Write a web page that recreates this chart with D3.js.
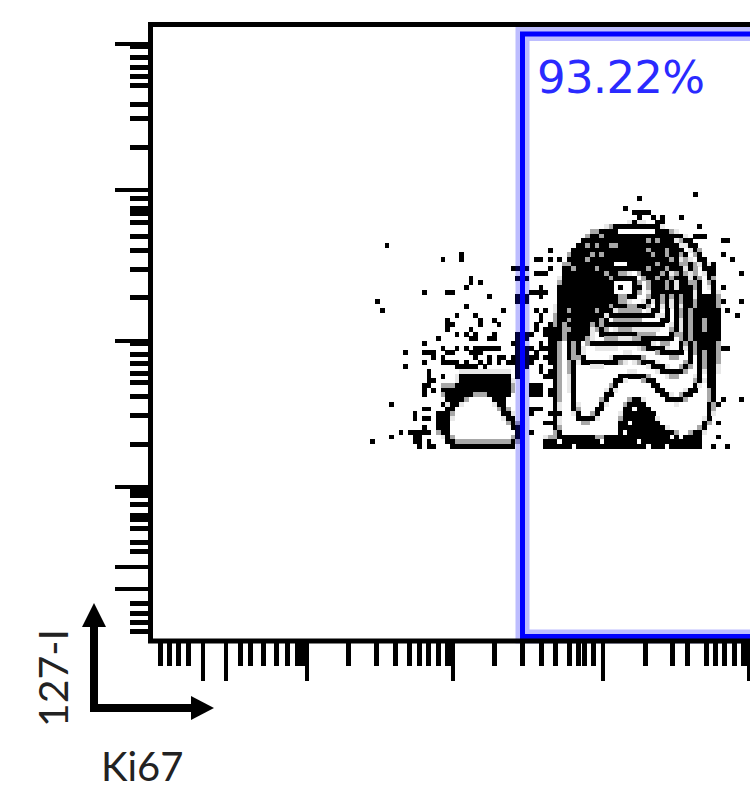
<!DOCTYPE html>
<html>
<head>
<meta charset="utf-8">
<style>
html, body { margin: 0; padding: 0; background: #fff; overflow: hidden; }
svg { display: block; }
</style>
<script src="https://cdn.jsdelivr.net/npm/d3@7"></script>
</head>
<body>
<svg id="chart" width="750" height="789"></svg>
<script>
// axis ticks, in fluorescence units (log axes)
var decades = [1, 10, 100, 1000, 10000];
var xMajor = [1.94, 2.83, 10, 100, 1000, 10000];
var xMinor = [1, 1.15, 1.33, 1.55, 3.53, 4.14, 5.07, 6.2, 7.4, 8.7, 9.4,
	19.4, 30.2, 40.7, 50.7, 59.5, 68.5, 80, 92, 97,
	190, 293, 392, 486, 603, 690, 760, 870,
	1970, 3000, 3800, 5150, 5900, 6900, 8000, 9300, 9700];
var yMajor = [2.8, 1.95, 10, 100, 1000, 10000];
var yMinor = [1, 1.15, 1.33, 1.56, 3.56, 4.1, 5.1, 5.9, 6.3, 7.5, 8.7, 9.4,
	19.4, 30.6, 41.3, 51.5, 59.5, 69.5, 80, 95,
	193, 295, 395, 488, 605, 695, 750, 870,
	1940, 3060, 3820, 5150, 5950, 6850, 8000, 9500];

var gateLabel = "93.22%";
var xLabel = "Ki67";
var yLabel = "127-I";

// contour levels in display channels, outermost first
var ringA = [[409,203],[406,260],[407,320],[412,360],[421,385],[439,402],[464,412],[489,414],[514,409],[539,397],[554,375],[564,345],[565,300],[562,255],[557,220],[547,207],[529,203],[509,212],[497,230],[486,240],[476,233],[471,215],[467,202],[439,200]];
var ringB = [[422,260],[424,233],[432,220],[442,223],[462,253],[469,262],[496,262],[516,243],[526,240],[542,250],[549,267],[551,310],[546,360],[534,382],[514,400],[489,406],[459,402],[439,390],[424,368],[419,340],[419,300]];
var ringC = [[427,300],[431,280],[452,277],[476,283],[492,280],[522,267],[537,275],[542,303],[539,350],[527,378],[509,394],[484,400],[459,396],[441,384],[431,360],[426,330]];
var ringD = [[433,315],[439,298],[459,296],[489,296],[509,290],[527,286],[534,310],[532,350],[521,374],[504,389],[482,395],[461,391],[447,380],[438,358],[434,335]];
var ringE = [[447,315],[454,305],[479,305],[499,303],[517,300],[525,315],[524,345],[514,368],[499,383],[481,390],[463,386],[452,375],[445,355],[443,330]];
var ringF = [[452,322],[459,315],[489,314],[511,316],[517,335],[509,362],[496,377],[479,385],[464,381],[455,370],[449,350],[449,332]];
var ringG = [[457,330],[464,324],[489,324],[504,328],[509,345],[502,363],[491,373],[477,380],[466,376],[459,365],[455,348]];
var ringH = [[461,338],[469,333],[489,333],[499,340],[501,352],[494,365],[484,372],[474,375],[464,370],[459,355]];
var ringI = [[458,352],[462,361],[472,364],[482,361],[486,352],[482,344],[472,341],[462,344]];
var rings = [ringA, ringB, ringC, ringD, ringE, ringF, ringG, ringH, ringI];

// solid areas of the contour plot
var leftMass = [[307,267],[359,267],[362,250],[354,240],[309,237],[294,240],[289,253],[307,255]];
var leftFoot = [[286,228],[299,228],[296,208],[286,208]];
var leftBase = [[305,199],[363,199],[363,191],[305,191]];
var leftBlob = [[321,245],[337,245],[346,235],[356,220],[365,208],[359,199],[304,199],[296,210],[299,220],[302,230],[311,238]];
var domeDark = [[412,340],[417,375],[439,402],[469,412],[509,410],[529,395],[524,378],[499,370],[449,370],[444,345],[439,300],[414,300]];
var bottomBand = [[394,202],[424,204],[449,202],[467,204],[471,220],[477,235],[486,240],[497,232],[509,215],[529,204],[547,207],[552,200],[549,191],[394,191]];
var rightFlank = [[555,345],[560,300],[558,255]];

// outlier events
var outliersLeft = [[235,395],[291,380],[310,385],[310,381],[362,371],[320,362],[320,357],[329,357],[315,352],[272,348],[296,348],[301,348],[338,343],[225,338],[315,333],[230,329],[352,329],[305,324],[324,324],[296,319],[329,319],[343,319],[296,315],[301,315],[329,315],[348,315],[296,310],[320,310],[305,305],[315,305],[324,305],[343,305],[287,300],[320,300],[324,300],[338,300],[343,300],[272,296],[362,296],[291,291],[305,291],[315,291],[324,291],[329,291],[334,291],[338,291],[343,291],[348,291],[254,286],[272,286],[277,286],[282,286],[296,286],[301,286],[320,286],[324,286],[329,286],[282,282],[291,282],[325,282],[339,282],[349,282],[354,282],[362,282],[272,277],[290,277],[295,277],[300,277],[306,277],[316,277],[329,277],[339,277],[347,277],[357,277],[362,277],[254,272],[306,272],[310,272],[314,272],[320,272],[324,272],[334,272],[277,267],[277,263],[291,263],[276,258],[280,258],[284,258],[272,253],[277,253],[272,249],[282,249],[272,244],[239,235],[291,235],[271,230],[275,230],[279,230],[263,225],[266,221],[271,221],[276,221],[272,211],[249,206],[257,206],[262,206],[267,206],[272,206],[276,206],[239,202],[262,202],[267,202],[221,197],[262,197],[267,197],[277,197],[267,192],[276,192],[281,192]];
var outliersGate = [[367,371],[376,371],[367,362],[376,362],[367,342],[376,342],[367,338],[376,338],[367,305],[376,305],[367,300],[376,300],[367,296],[367,291],[376,291],[367,286],[376,286],[367,282],[376,282],[367,277],[376,277],[367,272],[376,272],[367,267],[367,263]];
var outliersRight = [[386,380],[392,380],[401,380],[409,382],[386,366],[391,366],[396,366],[401,370],[382,348],[387,348],[392,348],[396,348],[392,352],[390,343],[386,329],[396,329],[390,325],[389,320],[386,315],[401,315],[386,310],[394,310],[398,310],[402,310],[381,305],[396,305],[401,305],[406,305],[401,300],[391,295],[399,295],[379,291],[390,291],[394,291],[397,291],[386,286],[399,286],[379,281],[383,281],[386,281],[396,281],[401,281],[379,277],[401,277],[390,272],[390,267],[397,267],[402,267],[406,267],[394,262],[401,262],[379,253],[383,253],[388,253],[392,253],[379,248],[383,248],[388,248],[392,248],[401,248],[379,243],[383,243],[388,243],[392,243],[399,243],[404,243],[379,230],[383,230],[388,230],[392,230],[379,225],[399,225],[404,225],[409,225],[394,215],[401,215],[379,206]];
var outliersTop = [[489,442],[546,446],[475,432],[482,428],[487,428],[491,428],[496,428],[489,423],[503,423],[513,423],[531,423],[485,418],[508,418],[513,418],[550,413],[544,404],[548,404],[552,404],[571,399],[575,399],[399,390],[574,385],[582,380],[564,375],[564,371],[564,367],[591,366],[574,353],[574,338],[592,338],[576,329],[588,324],[574,291],[579,291],[574,239],[592,239],[569,235],[569,216],[569,202],[563,195],[577,192],[567,317],[567,300]];
var holes = [[410,197],[452,197],[484,231],[479,217],[476,207],[522,202],[532,202],[499,193],[424,193],[489,197],[514,193],
	[470,410],[475,410],[480,410],[484,410],[489,410],[494,410],[498,410],[503,410],[464,376],[469,376],[474,376]];
var greyCells = [[442,407],[451,403],[436,395],[446,395],[461,395],[466,395],[451,385],[442,385],[436,380],[417,385],[417,375],[422,371],[447,370],[456,367],[461,362],
	[416,330],[416,320],[416,310],[437,300],[437,295],[446,330],[450,320],[455,310],
	[499,397],[509,397],[514,390],[499,390],[504,385],[517,385],[522,380],[529,385],[537,380],[532,375],[542,375],[509,375],[517,370],[527,368],[537,365],[544,365],[549,360],[499,370],[489,365],[509,362],[519,360],[489,357],[499,355]];

var svg = d3.select("#chart");

var x = d3.scaleLog().domain(decades).range([160, 306, 452, 602, 748]);
var y = d3.scaleLog().domain(decades).range([631, 486, 340, 189, 43]);
// display channels used by the contour data
var xChan = d3.scaleLinear().domain([0, 600]).range([151, 751]);
var yChan = d3.scaleLinear().domain([0, 616]).range([640, 24]);

//contours are drawn small then read back, the plot is a low resolution raster
var cell = 4.67,
	cols = Math.ceil(600 / cell),
	rows = Math.ceil(616 / cell),
	canvas = document.createElement("canvas");
canvas.width = cols;
canvas.height = rows;
var ctx = canvas.getContext("2d", { willReadFrequently: true });
ctx.fillStyle = "#fff";
ctx.fillRect(0, 0, cols, rows);

var bx = function(p) { return (xChan(p[0]) - 151) / cell; },
	by = function(p) { return rows - (640 - yChan(p[1])) / cell; };
var ringLine = d3.line().x(bx).y(by).curve(d3.curveCatmullRomClosed.alpha(0.5)).context(ctx);
var shapeLine = d3.line().x(bx).y(by).curve(d3.curveLinearClosed).context(ctx);
var openLine = d3.line().x(bx).y(by).curve(d3.curveCatmullRom).context(ctx);

function fillShape(points, color) {
	ctx.beginPath();
	shapeLine(points);
	ctx.fillStyle = color;
	ctx.fill();
}
fillShape(leftMass, "#000");
fillShape(leftFoot, "#000");
fillShape(leftBase, "#000");
fillShape(bottomBand, "#000");
fillShape(domeDark, "#000");

ctx.strokeStyle = "#000";
ctx.lineWidth = 2.8;
ctx.beginPath();
shapeLine(leftBlob);
ctx.stroke();
fillShape(leftBlob, "#fff");

ctx.lineWidth = 1.3;
ctx.beginPath();
openLine(rightFlank);
ctx.stroke();

ctx.lineWidth = 1.1;
rings.forEach(function(ring) {
	ctx.beginPath();
	ringLine(ring);
	ctx.stroke();
});

function setCell(p, color) {
	ctx.fillStyle = color;
	ctx.fillRect(Math.floor(bx(p)), Math.floor(by(p)), 1, 1);
}
outliersLeft.concat(outliersGate, outliersRight, outliersTop).forEach(function(p) { setCell(p, "#000"); });
holes.forEach(function(p) { setCell(p, "#fff"); });
greyCells.forEach(function(p) { setCell(p, "#888"); });
setCell([470, 352], "#000"); // the peak

var pixels = ctx.getImageData(0, 0, cols, rows).data,
	cells = [];
for (var r = 0; r < rows; r++) {
	for (var c = 0; c < cols; c++) {
		var dark = 255 - pixels[(r * cols + c) * 4];
		if (dark > 135) cells.push({ c: c, r: r, fill: "#000" });
		else if (dark > 70) cells.push({ c: c, r: r, fill: "#a8a8a8" });
		else if (dark > 25) cells.push({ c: c, r: r, fill: "#e8e8e8" });
	}
}

svg.append("g").selectAll("rect")
	.data(cells)
	.enter().append("rect")
	.attr("x", function(d) { return 151 + d.c * cell; })
	.attr("y", function(d) { return 640 - (rows - d.r) * cell; })
	.attr("width", cell + 0.2)
	.attr("height", cell + 0.2)
	.attr("shape-rendering", "crispEdges")
	.attr("fill", function(d) { return d.fill; });

// gate
svg.append("rect")
	.attr("x", 522.5).attr("y", 34).attr("width", 400).attr("height", 602.5)
	.attr("fill", "none").attr("stroke", "rgba(0,0,255,0.26)").attr("stroke-width", 14);
svg.append("rect")
	.attr("x", 522.5).attr("y", 34).attr("width", 400).attr("height", 602.5)
	.attr("fill", "none").attr("stroke", "#00f").attr("stroke-width", 5);

svg.append("text")
	.attr("x", 537).attr("y", 93)
	.attr("font-family", "DejaVu Sans")
	.attr("font-size", 45)
	.attr("textLength", 168)
	.attr("fill", "#2a2aff")
	.text(gateLabel);

// frame and ticks
svg.append("rect")
	.attr("x", 150.5).attr("y", 24.5).attr("width", 800).attr("height", 616.5)
	.attr("fill", "none").attr("stroke", "#000").attr("stroke-width", 5);

function drawAxis(axis, transform, width) {
	var g = svg.append("g").attr("transform", transform).call(axis);
	g.select(".domain").remove();
	g.selectAll("line").attr("stroke", "#000").attr("stroke-width", width).attr("shape-rendering", "crispEdges");
}
drawAxis(d3.axisBottom(x).tickValues(xMinor).tickSize(25).tickFormat(""), "translate(0,641)", 5);
drawAxis(d3.axisBottom(x).tickValues(xMajor).tickSize(40).tickFormat(""), "translate(0,641)", 4);
drawAxis(d3.axisLeft(y).tickValues(yMinor).tickSize(20.5).tickFormat(""), "translate(150.5,0)", 5);
drawAxis(d3.axisLeft(y).tickValues(yMajor).tickSize(35.5).tickFormat(""), "translate(150.5,0)", 4);

// axis arrows
svg.append("path")
	.attr("d", "M94,627V708H191")
	.attr("fill", "none").attr("stroke", "#000").attr("stroke-width", 8);
svg.append("path").attr("d", "M94,603L106,627H82Z").attr("fill", "#000");
svg.append("path").attr("d", "M214,708L191,696V720Z").attr("fill", "#000");

svg.append("text")
	.attr("x", 101).attr("y", 781)
	.attr("font-family", "Lato").attr("font-size", 40)
	.attr("fill", "#222")
	.text(xLabel);
svg.append("text")
	.attr("transform", "translate(67.5,727) rotate(-90)")
	.attr("font-family", "Lato").attr("font-size", 41)
	.attr("fill", "#222")
	.text(yLabel);
</script>
</body>
</html>
